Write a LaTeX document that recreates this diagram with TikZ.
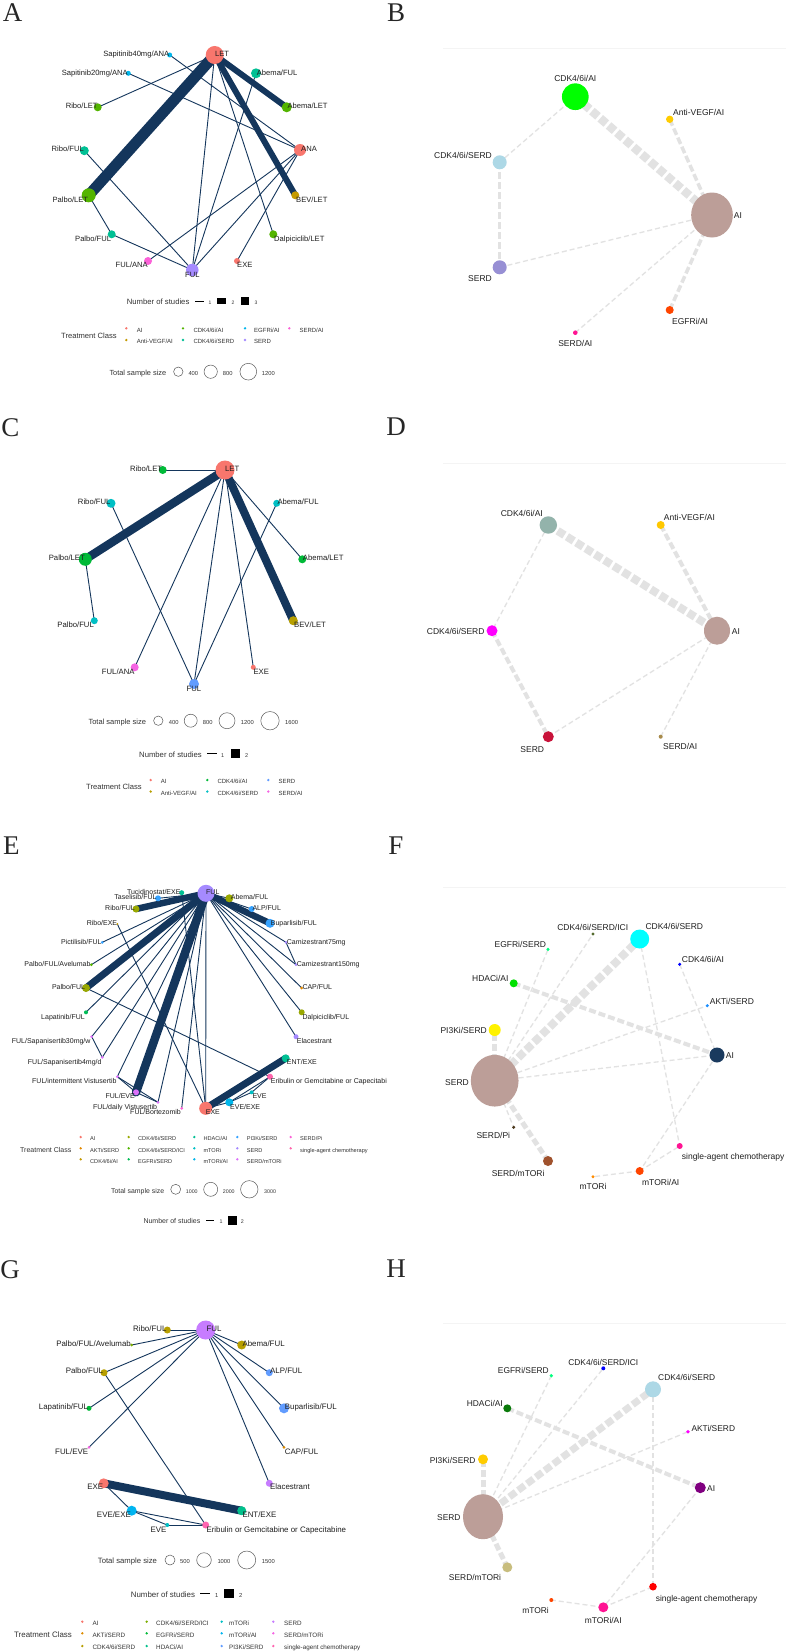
\documentclass[tikz,border=0pt]{standalone}
\usepackage{fontspec}
\setmainfont{Liberation Sans}
\newfontfamily\panelfont{Liberation Serif}
\usetikzlibrary{shapes.geometric,backgrounds}
\definecolor{navy}{HTML}{14365C}
\definecolor{egray}{HTML}{E2E2E2}
\definecolor{faint}{HTML}{F4F4F4}
% panel A palette
\definecolor{aAI}{HTML}{F8766D}\definecolor{aVEGF}{HTML}{C49A00}\definecolor{aCDKAI}{HTML}{53B400}
\definecolor{aCDKSERD}{HTML}{00C094}\definecolor{aEGFR}{HTML}{00B6EB}\definecolor{aSERD}{HTML}{A58AFF}\definecolor{aSERDAI}{HTML}{FB61D7}
% panel C palette
\definecolor{cAI}{HTML}{F8766D}\definecolor{cVEGF}{HTML}{B79F00}\definecolor{cCDKAI}{HTML}{00BA38}
\definecolor{cCDKSERD}{HTML}{00BFC4}\definecolor{cSERD}{HTML}{619CFF}\definecolor{cSERDAI}{HTML}{F564E3}
% panel E palette
\definecolor{eAI}{HTML}{F8766D}\definecolor{eAKT}{HTML}{E38900}\definecolor{eCDKAI}{HTML}{C49A00}
\definecolor{eCDKSERD}{HTML}{99A800}\definecolor{eICI}{HTML}{53B400}\definecolor{eEGFR}{HTML}{00BC56}
\definecolor{eHDAC}{HTML}{00C094}\definecolor{emTOR}{HTML}{00BFC4}\definecolor{emTORAI}{HTML}{00B6EB}
\definecolor{ePI3K}{HTML}{35A2FF}\definecolor{eSERD}{HTML}{A58AFF}\definecolor{eSERDmTOR}{HTML}{DC71FA}
\definecolor{eSERDPi}{HTML}{FB61D7}\definecolor{eChemo}{HTML}{FF65AC}
% panel G palette
\definecolor{gAI}{HTML}{F8766D}\definecolor{gAKT}{HTML}{DE8C00}\definecolor{gCDKSERD}{HTML}{B79F00}
\definecolor{gICI}{HTML}{7CAE00}\definecolor{gEGFR}{HTML}{00BA38}\definecolor{gHDAC}{HTML}{00C08B}
\definecolor{gmTOR}{HTML}{00BFC4}\definecolor{gmTORAI}{HTML}{00B4F0}\definecolor{gPI3K}{HTML}{619CFF}
\definecolor{gSERD}{HTML}{C77CFF}\definecolor{gSERDmTOR}{HTML}{F564E3}\definecolor{gChemo}{HTML}{FF64B0}
% right panels
\definecolor{rosy}{HTML}{BC9E98}
\definecolor{hFFCC00}{HTML}{FFCC00}\definecolor{hADD8E6}{HTML}{ADD8E6}\definecolor{h978FD4}{HTML}{978FD4}
\definecolor{hFF4500}{HTML}{FF4500}\definecolor{hFF1493}{HTML}{FF1493}\definecolor{h93B3AB}{HTML}{93B3AB}
\definecolor{hFFC800}{HTML}{FFC800}\definecolor{hFF00FF}{HTML}{FF00FF}\definecolor{hC8133A}{HTML}{C8133A}
\definecolor{hA88B4C}{HTML}{A88B4C}\definecolor{h556B2F}{HTML}{556B2F}\definecolor{h00FFFF}{HTML}{00FFFF}
\definecolor{h00FF7F}{HTML}{00FF7F}\definecolor{h0000FF}{HTML}{0000FF}\definecolor{h00E000}{HTML}{00E000}
\definecolor{h1E90FF}{HTML}{1E90FF}\definecolor{hFFF200}{HTML}{FFF200}\definecolor{h1A3A5E}{HTML}{1A3A5E}
\definecolor{h4E3B1F}{HTML}{4E3B1F}\definecolor{hA0522D}{HTML}{A0522D}\definecolor{hFF8C00}{HTML}{FF8C00}
\definecolor{h0A7A0A}{HTML}{0A7A0A}\definecolor{h800080}{HTML}{800080}\definecolor{hC8BD7E}{HTML}{C8BD7E}
\definecolor{hFF0000}{HTML}{FF0000}\definecolor{h00FF00}{HTML}{00FF00}
\newcommand{\mydot}[4]{\node[dot,fill=#4,minimum size=#3] (#1) at (#2) {};}
\newcommand{\mylab}[4]{\node[lab,anchor=#2] (#1) at (#3) {#4};}
\newcommand{\myedge}[3]{\draw[#1] (#2.center) -- (#3.center);}
\begin{document}
\begin{tikzpicture}[x=1pt,y=-1pt,
  dot/.style={circle,inner sep=0pt,draw=none},
  lab/.style={inner sep=0pt,text height=1.4ex,text depth=0pt,text=black!88},
  leg/.style={inner sep=0pt,text height=1.4ex,text depth=0pt,text=black!80},
  letter/.style={inner sep=0pt,text=black!85,font=\panelfont\fontsize{27}{27}\selectfont},
  nv/.style={draw=navy,line width=0.9pt,line cap=round},
  gd/.style={draw=egray,line width=1.3pt,dash pattern=on 5pt off 3pt},
  gm/.style={draw=egray,line width=3.5pt,dash pattern=on 7pt off 3pt},
  gk/.style={draw=egray,line width=8.5pt,dash pattern=on 8pt off 3pt},
  sz/.style={circle,draw=black!65,line width=0.5pt,inner sep=0pt},
  ld/.style={circle,inner sep=0pt,minimum size=2.6},
]
\useasboundingbox (0,0) rectangle (786,1651);
\begin{pgfonlayer}{background}
\fill[white] (0,0) rectangle (786,1651);
\draw[faint,line width=0.7pt] (443,48) -- (786,48);
\draw[faint,line width=0.7pt] (443,463) -- (786,463);
\draw[faint,line width=0.7pt] (443,887.3) -- (786,887.3);
\draw[faint,line width=0.7pt] (443,1323.3) -- (786,1323.3);
\end{pgfonlayer}

%%%%%%%%%%%%%%%% PANEL A
\begin{scope}[lab/.append style={font=\fontsize{7.6}{9}\selectfont}]
\node[letter] (pA) at (12.5,12.5) {A};
\mydot{A1}{214.7,55}{18}{aAI}
\mydot{A2}{169.7,55}{5}{aEGFR}
\mydot{A3}{128.3,73.3}{5}{aEGFR}
\mydot{A4}{256,73.3}{10}{aCDKSERD}
\mydot{A5}{97.7,107.3}{8}{aCDKAI}
\mydot{A6}{286.7,107.3}{10}{aCDKAI}
\mydot{A7}{84.3,150.7}{9}{aCDKSERD}
\mydot{A8}{300,150}{12}{aAI}
\mydot{A9}{88.7,195.3}{14}{aCDKAI}
\mydot{A10}{295.3,195.3}{8}{aVEGF}
\mydot{A11}{111.7,234.3}{8}{aCDKSERD}
\mydot{A12}{273.3,234.3}{8}{aCDKAI}
\mydot{A13}{148,261}{8}{aSERDAI}
\mydot{A14}{237,261}{6}{aAI}
\mydot{A15}{192.3,270}{12.5}{aSERD}
\mylab{A1l}{west}{215,52.7}{LET}
\mylab{A2l}{east}{169.5,52.7}{Sapitinib40mg/ANA}
\mylab{A3l}{east}{128,71.7}{Sapitinib20mg/ANA}
\mylab{A4l}{west}{256.7,71.7}{Abema/FUL}
\mylab{A5l}{east}{97.7,105}{Ribo/LET}
\mylab{A6l}{west}{287.3,105}{Abema/LET}
\mylab{A7l}{east}{84,148}{Ribo/FUL}
\mylab{A8l}{west}{301,148}{ANA}
\mylab{A9l}{east}{88.3,198.7}{Palbo/LET}
\mylab{A10l}{west}{296,198.7}{BEV/LET}
\mylab{A11l}{east}{111.3,237.7}{Palbo/FUL}
\mylab{A12l}{west}{274,237.7}{Dalpiciclib/LET}
\mylab{A13l}{east}{148,264.3}{FUL/ANA}
\mylab{A14l}{west}{237,264.3}{EXE}
\mylab{A15l}{center}{192.3,274}{FUL}
\begin{pgfonlayer}{background}
\myedge{nv,line width=11pt}{A1}{A9}
\myedge{nv,line width=6pt}{A1}{A6}
\myedge{nv,line width=6pt}{A1}{A10}
\myedge{nv}{A1}{A5}
\myedge{nv}{A1}{A12}
\myedge{nv}{A1}{A15}
\myedge{nv}{A2}{A8}
\myedge{nv}{A3}{A8}
\myedge{nv}{A15}{A7}
\myedge{nv}{A15}{A11}
\myedge{nv}{A15}{A4}
\myedge{nv}{A15}{A8}
\myedge{nv}{A9}{A11}
\myedge{nv}{A13}{A8}
\myedge{nv}{A14}{A8}
\end{pgfonlayer}
% legend
\node[leg,anchor=west,font=\fontsize{7.7}{9}\selectfont] (Ans) at (126.7,301) {Number of studies};
\draw[line width=0.9pt] (195,301) -- (204,301);
\node[leg,font=\fontsize{5}{6}\selectfont] (An1) at (210,301) {1};
\fill (217,298.4) rectangle (226.3,303.6);
\node[leg,font=\fontsize{5}{6}\selectfont] (An2) at (233,301) {2};
\fill (240.7,296.7) rectangle (249.3,305.3);
\node[leg,font=\fontsize{5}{6}\selectfont] (An3) at (256,301) {3};
\node[leg,anchor=west,font=\fontsize{7.6}{9}\selectfont] (Atc) at (61,334.3) {Treatment Class};
\begin{scope}[leg/.append style={font=\fontsize{6}{7}\selectfont}]
\node[ld,fill=aAI] (Ad1) at (126.3,328.3) {}; \node[leg,anchor=west] (At1) at (136.7,328.3) {AI};
\node[ld,fill=aCDKAI] (Ad2) at (183,328.3) {}; \node[leg,anchor=west] (At2) at (193.3,328.3) {CDK4/6i/AI};
\node[ld,fill=aEGFR] (Ad3) at (245,328.3) {}; \node[leg,anchor=west] (At3) at (254,328.3) {EGFRi/AI};
\node[ld,fill=aSERDAI] (Ad4) at (289.3,328.3) {}; \node[leg,anchor=west] (At4) at (299.3,328.3) {SERD/AI};
\node[ld,fill=aVEGF] (Ad5) at (126.3,340) {}; \node[leg,anchor=west] (At5) at (136.7,340) {Anti-VEGF/AI};
\node[ld,fill=aCDKSERD] (Ad6) at (183,340) {}; \node[leg,anchor=west] (At6) at (193.3,340) {CDK4/6i/SERD};
\node[ld,fill=aSERD] (Ad7) at (245,340) {}; \node[leg,anchor=west] (At7) at (254,340) {SERD};
\end{scope}
\node[leg,anchor=west,font=\fontsize{7.4}{9}\selectfont] (Ats) at (109.3,371.7) {Total sample size};
\node[sz,minimum size=9.4] (As1) at (178.3,371.7) {};
\node[leg,anchor=west,font=\fontsize{5.8}{7}\selectfont] (As1l) at (188.3,371.7) {400};
\node[sz,minimum size=13.3] (As2) at (210.7,371.7) {};
\node[leg,anchor=west,font=\fontsize{5.8}{7}\selectfont] (As2l) at (222.7,371.7) {800};
\node[sz,minimum size=16.7] (As3) at (248.3,371.7) {};
\node[leg,anchor=west,font=\fontsize{5.8}{7}\selectfont] (As3l) at (261.7,371.7) {1200};
\end{scope}

%%%%%%%%%%%%%%%% PANEL B
\begin{scope}[lab/.append style={font=\fontsize{8.5}{10}\selectfont}]
\node[letter] (pB) at (396,13) {B};
\mydot{B1}{575.3,96.7}{26.7}{h00FF00}
\mydot{B2}{669.7,119.3}{7.4}{hFFCC00}
\mydot{B3}{499.7,162.3}{14}{hADD8E6}
\node[ellipse,inner sep=0pt,fill=rosy,minimum width=41.7,minimum height=45] (B4) at (712,215) {};
\mydot{B5}{499.7,267.3}{14}{h978FD4}
\mydot{B6}{669.7,310}{8}{hFF4500}
\mydot{B7}{575.3,332.7}{4.6}{hFF1493}
\mylab{B1l}{center}{575.3,77.7}{CDK4/6i/AI}
\mylab{B2l}{west}{673,112.3}{Anti-VEGF/AI}
\mylab{B3l}{east}{492,155}{CDK4/6i/SERD}
\mylab{B4l}{west}{733.7,215}{AI}
\mylab{B5l}{east}{492,277.7}{SERD}
\mylab{B6l}{west}{672,320.7}{EGFRi/AI}
\mylab{B7l}{center}{575.3,342.7}{SERD/AI}
\begin{pgfonlayer}{background}
\myedge{gk}{B1}{B4}
\myedge{gd}{B1}{B3}
\myedge{gm}{B3}{B5}
\myedge{gd}{B5}{B4}
\myedge{gm}{B2}{B4}
\myedge{gm}{B6}{B4}
\myedge{gd}{B7}{B4}
\end{pgfonlayer}
\end{scope}

%%%%%%%%%%%%%%%% PANEL C
\begin{scope}[lab/.append style={font=\fontsize{7.7}{9}\selectfont}]
\node[letter] (pC) at (10.5,428) {C};
\mydot{C1}{225,470}{19}{cAI}
\mydot{C2}{162.7,470}{8}{cCDKAI}
\mydot{C3}{111,503.3}{9}{cCDKSERD}
\mydot{C4}{276.7,503.3}{7}{cCDKSERD}
\mydot{C5}{85.3,559.3}{13}{cCDKAI}
\mydot{C6}{302.3,559.3}{8}{cCDKAI}
\mydot{C7}{94.3,620.7}{7}{cCDKSERD}
\mydot{C8}{293.3,620.7}{9}{cVEGF}
\mydot{C9}{134.7,667.3}{8}{cSERDAI}
\mydot{C10}{253.3,667.3}{5}{cAI}
\mydot{C11}{194,684}{10}{cSERD}
\mylab{C1l}{west}{225,467.7}{LET}
\mylab{C2l}{east}{162.3,467.7}{Ribo/LET}
\mylab{C3l}{east}{110.7,501}{Ribo/FUL}
\mylab{C4l}{west}{277.3,501}{Abema/FUL}
\mylab{C5l}{east}{85,556.7}{Palbo/LET}
\mylab{C6l}{west}{302.7,556.7}{Abema/LET}
\mylab{C7l}{east}{94,624}{Palbo/FUL}
\mylab{C8l}{west}{294,624}{BEV/LET}
\mylab{C9l}{east}{134.7,670.7}{FUL/ANA}
\mylab{C10l}{west}{253.3,670.7}{EXE}
\mylab{C11l}{center}{194,687.7}{FUL}
\begin{pgfonlayer}{background}
\myedge{nv}{C1}{C2}
\myedge{nv,line width=8.5pt}{C1}{C5}
\myedge{nv,line width=8pt}{C1}{C8}
\myedge{nv}{C1}{C6}
\myedge{nv}{C1}{C10}
\myedge{nv}{C1}{C9}
\myedge{nv}{C1}{C11}
\myedge{nv}{C5}{C7}
\myedge{nv}{C3}{C11}
\myedge{nv}{C4}{C11}
\end{pgfonlayer}
\node[leg,anchor=west,font=\fontsize{7.5}{9}\selectfont] (Cts) at (88.3,720.7) {Total sample size};
\node[sz,minimum size=9.4] (Cs1) at (158.3,720.7) {};
\node[leg,anchor=west,font=\fontsize{5.8}{7}\selectfont] (Cs1l) at (168.7,720.7) {400};
\node[sz,minimum size=13] (Cs2) at (190.7,720.7) {};
\node[leg,anchor=west,font=\fontsize{5.8}{7}\selectfont] (Cs2l) at (202.7,720.7) {800};
\node[sz,minimum size=16] (Cs3) at (227,720.7) {};
\node[leg,anchor=west,font=\fontsize{5.8}{7}\selectfont] (Cs3l) at (240.7,720.7) {1200};
\node[sz,minimum size=18.4] (Cs4) at (270,720.7) {};
\node[leg,anchor=west,font=\fontsize{5.8}{7}\selectfont] (Cs4l) at (285,720.7) {1600};
\node[leg,anchor=west,font=\fontsize{7.7}{9}\selectfont] (Cns) at (139,753.3) {Number of studies};
\draw[line width=0.9pt] (207.3,753.3) -- (216.7,753.3);
\node[leg,font=\fontsize{5.5}{6}\selectfont] (Cn1) at (222.7,753.3) {1};
\fill (230.7,748.7) rectangle (240,758);
\node[leg,font=\fontsize{5.5}{6}\selectfont] (Cn2) at (246.7,753.3) {2};
\node[leg,anchor=west,font=\fontsize{7.6}{9}\selectfont] (Ctc) at (86,786) {Treatment Class};
\begin{scope}[leg/.append style={font=\fontsize{6}{7}\selectfont}]
\node[ld,fill=cAI] (Cd1) at (150.7,780) {}; \node[leg,anchor=west] (Ct1) at (160.7,780) {AI};
\node[ld,fill=cCDKAI] (Cd2) at (207.3,780) {}; \node[leg,anchor=west] (Ct2) at (217.3,780) {CDK4/6i/AI};
\node[ld,fill=cSERD] (Cd3) at (268.3,780) {}; \node[leg,anchor=west] (Ct3) at (278.3,780) {SERD};
\node[ld,fill=cVEGF] (Cd4) at (150.7,791.5) {}; \node[leg,anchor=west] (Ct4) at (160.7,791.5) {Anti-VEGF/AI};
\node[ld,fill=cCDKSERD] (Cd5) at (207.3,791.5) {}; \node[leg,anchor=west] (Ct5) at (217.3,791.5) {CDK4/6i/SERD};
\node[ld,fill=cSERDAI] (Cd6) at (268.3,791.5) {}; \node[leg,anchor=west] (Ct6) at (278.3,791.5) {SERD/AI};
\end{scope}
\end{scope}

%%%%%%%%%%%%%%%% PANEL D
\begin{scope}[lab/.append style={font=\fontsize{8.5}{10}\selectfont}]
\node[letter] (pD) at (396,427) {D};
\mydot{D1}{548.3,525}{17.4}{h93B3AB}
\mydot{D2}{660.7,525}{8}{hFFC800}
\mydot{D3}{492,630.7}{11}{hFF00FF}
\node[ellipse,inner sep=0pt,fill=rosy,minimum width=26,minimum height=28] (D4) at (717,630.7) {};
\mydot{D5}{548.3,736.7}{11}{hC8133A}
\mydot{D6}{660.7,736.7}{4}{hA88B4C}
\mylab{D1l}{east}{543,512.7}{CDK4/6i/AI}
\mylab{D2l}{west}{663.7,516.7}{Anti-VEGF/AI}
\mylab{D3l}{east}{484.7,630.7}{CDK4/6i/SERD}
\mylab{D4l}{west}{731.7,630.7}{AI}
\mylab{D5l}{center}{532.3,749}{SERD}
\mylab{D6l}{west}{663,745.7}{SERD/AI}
\begin{pgfonlayer}{background}
\myedge{gk,line width=8pt}{D1}{D4}
\myedge{gm,line width=4pt}{D2}{D4}
\myedge{gd}{D1}{D3}
\myedge{gm,line width=4pt}{D3}{D5}
\myedge{gd}{D5}{D4}
\myedge{gd}{D6}{D4}
\end{pgfonlayer}
\end{scope}

%%%%%%%%%%%%%%%% PANEL E
\begin{scope}[lab/.append style={font=\fontsize{7}{8}\selectfont}]
\node[letter] (pE) at (11.3,846) {E};
\mydot{E1}{206,893.3}{17}{eSERD}
\mydot{E2}{181.7,892.7}{5}{eHDAC}
\mydot{E3}{158,898.3}{6}{ePI3K}
\mydot{E4}{229.3,898.3}{8}{eCDKSERD}
\mydot{E5}{136,909}{7}{eCDKSERD}
\mydot{E6}{251.7,909}{6}{ePI3K}
\mydot{E7}{117.3,924}{2}{eCDKAI}
\mydot{E8}{270,923.3}{9}{ePI3K}
\mydot{E9}{102.3,942.3}{3}{ePI3K}
\mydot{E10}{286,942.3}{3}{eSERD}
\mydot{E11}{91.3,964.7}{3}{eICI}
\mydot{E12}{296,964.7}{3}{eSERD}
\mydot{E13}{86,988}{8}{eCDKSERD}
\mydot{E14}{301.7,988}{3}{eAKT}
\mydot{E15}{86,1012.3}{4}{eEGFR}
\mydot{E16}{301.7,1012.3}{6}{eCDKSERD}
\mydot{E17}{91.7,1036.7}{3}{eSERDmTOR}
\mydot{E18}{296,1036.7}{5}{eSERD}
\mydot{E19}{102.3,1057.3}{3}{eSERDmTOR}
\mydot{E20}{285.7,1058.3}{8}{eHDAC}
\mydot{E21}{117.3,1076.7}{3}{eSERDmTOR}
\mydot{E22}{270,1076.7}{6}{eChemo}
\mydot{E23}{136,1092.3}{6}{eSERDmTOR}
\mydot{E24}{251.7,1092.3}{4}{emTOR}
\mydot{E25}{158,1102.3}{3}{eSERDmTOR}
\mydot{E26}{229.3,1102.3}{8}{emTORAI}
\mydot{E27}{181.7,1108.3}{3}{eSERDPi}
\mydot{E28}{205.7,1108.3}{13}{eAI}
\mylab{E1l}{west}{206,890.7}{FUL}
\mylab{E2l}{east}{180.7,890.7}{Tucidinostat/EXE}
\mylab{E3l}{east}{156.7,896}{Taselisib/FUL}
\mylab{E4l}{west}{230.7,896}{Abema/FUL}
\mylab{E5l}{east}{135,906.7}{Ribo/FUL}
\mylab{E6l}{west}{252.3,906.7}{ALP/FUL}
\mylab{E7l}{east}{117.3,921.3}{Ribo/EXE}
\mylab{E8l}{west}{270.7,921.3}{Buparlisib/FUL}
\mylab{E9l}{east}{101.7,940.7}{Pictilisib/FUL}
\mylab{E10l}{west}{286.7,940.7}{Camizestrant75mg}
\mylab{E11l}{east}{90.7,962.7}{Palbo/FUL/Avelumab}
\mylab{E12l}{west}{296.7,962.7}{Camizestrant150mg}
\mylab{E13l}{east}{85.3,985.7}{Palbo/FUL}
\mylab{E14l}{west}{302.3,985.7}{CAP/FUL}
\mylab{E15l}{east}{85,1015.7}{Lapatinib/FUL}
\mylab{E16l}{west}{302.3,1015.7}{Dalpiciclib/FUL}
\mylab{E17l}{east}{90.7,1039.3}{FUL/Sapanisertib30mg/w}
\mylab{E18l}{west}{296.7,1039.3}{Elacestrant}
\mylab{E19l}{east}{101.7,1060.7}{FUL/Sapanisertib4mg/d}
\mylab{E20l}{west}{286.7,1061}{ENT/EXE}
\mylab{E21l}{east}{116.7,1080}{FUL/intermittent Vistusertib}
\begin{scope}
\clip (200,1070) rectangle (386,1090);
\mylab{E22l}{west}{270.7,1080}{Eribulin or Gemcitabine or Capecitabine}
\end{scope}
\mylab{E23l}{east}{135,1094.3}{FUL/EVE}
\mylab{E24l}{west}{252.3,1095}{EVE}
\mylab{E25l}{east}{157.3,1105.7}{FUL/daily Vistusertib}
\mylab{E26l}{west}{230,1105.3}{EVE/EXE}
\mylab{E27l}{east}{181,1111}{FUL/Bortezomib}
\mylab{E28l}{west}{205.7,1111}{EXE}
\begin{pgfonlayer}{background}
\myedge{nv,line width=6.5pt}{E1}{E5}
\myedge{nv,line width=7pt}{E1}{E13}
\myedge{nv,line width=8.5pt}{E1}{E23}
\myedge{nv,line width=6.5pt}{E1}{E8}
\myedge{nv,line width=7pt}{E28}{E20}
\myedge{nv}{E2}{E28}
\myedge{nv}{E1}{E3}
\myedge{nv}{E1}{E4}
\myedge{nv}{E1}{E6}
\myedge{nv}{E1}{E9}
\myedge{nv}{E1}{E10}
\myedge{nv}{E1}{E12}
\myedge{nv}{E10}{E12}
\myedge{nv}{E1}{E11}
\myedge{nv}{E1}{E14}
\myedge{nv}{E1}{E15}
\myedge{nv}{E1}{E16}
\myedge{nv}{E1}{E17}
\myedge{nv}{E1}{E18}
\myedge{nv}{E1}{E19}
\myedge{nv}{E17}{E19}
\myedge{nv}{E1}{E21}
\myedge{nv}{E1}{E25}
\myedge{nv}{E1}{E27}
\myedge{nv}{E1}{E28}
\myedge{nv}{E21}{E23}
\myedge{nv}{E21}{E25}
\myedge{nv}{E23}{E25}
\myedge{nv}{E7}{E28}
\myedge{nv}{E13}{E22}
\myedge{nv}{E28}{E26}
\myedge{nv}{E26}{E24}
\myedge{nv}{E26}{E22}
\myedge{nv}{E24}{E22}
\end{pgfonlayer}
\node[leg,anchor=west,font=\fontsize{7}{8}\selectfont] (Etc) at (20,1148.3) {Treatment Class};
\begin{scope}[leg/.append style={font=\fontsize{5.6}{7}\selectfont}]
\node[ld,fill=eAI] (Ed1) at (80.7,1137) {}; \node[leg,anchor=west] (Et1) at (90,1137) {AI};
\node[ld,fill=eAKT] (Ed2) at (80.7,1148.3) {}; \node[leg,anchor=west] (Et2) at (90,1148.3) {AKTi/SERD};
\node[ld,fill=eCDKAI] (Ed3) at (80.7,1159.3) {}; \node[leg,anchor=west] (Et3) at (90,1159.3) {CDK4/6i/AI};
\node[ld,fill=eCDKSERD] (Ed4) at (128.7,1137) {}; \node[leg,anchor=west] (Et4) at (138,1137) {CDK4/6i/SERD};
\node[ld,fill=eICI] (Ed5) at (128.7,1148.3) {}; \node[leg,anchor=west] (Et5) at (138,1148.3) {CDK4/6i/SERD/ICI};
\node[ld,fill=eEGFR] (Ed6) at (128.7,1159.3) {}; \node[leg,anchor=west] (Et6) at (138,1159.3) {EGFRi/SERD};
\node[ld,fill=eHDAC] (Ed7) at (194.3,1137) {}; \node[leg,anchor=west] (Et7) at (203.3,1137) {HDACi/AI};
\node[ld,fill=emTOR] (Ed8) at (194.3,1148.3) {}; \node[leg,anchor=west] (Et8) at (203.3,1148.3) {mTORi};
\node[ld,fill=emTORAI] (Ed9) at (194.3,1159.3) {}; \node[leg,anchor=west] (Et9) at (203.3,1159.3) {mTORi/AI};
\node[ld,fill=ePI3K] (Ed10) at (237.3,1137) {}; \node[leg,anchor=west] (Et10) at (246.7,1137) {PI3Ki/SERD};
\node[ld,fill=eSERD] (Ed11) at (237.3,1148.3) {}; \node[leg,anchor=west] (Et11) at (246.7,1148.3) {SERD};
\node[ld,fill=eSERDmTOR] (Ed12) at (237.3,1159.3) {}; \node[leg,anchor=west] (Et12) at (246.7,1159.3) {SERD/mTORi};
\node[ld,fill=eSERDPi] (Ed13) at (290.7,1137) {}; \node[leg,anchor=west] (Et13) at (300,1137) {SERD/Pi};
\node[ld,fill=eChemo] (Ed14) at (290.7,1148.3) {}; \node[leg,anchor=west] (Et14) at (300,1148.3) {single-agent chemotherapy};
\end{scope}
\node[leg,anchor=west,font=\fontsize{6.9}{8}\selectfont] (Ets) at (111,1189.3) {Total sample size};
\node[sz,minimum size=10] (Es1) at (175.7,1189.3) {};
\node[leg,anchor=west,font=\fontsize{5.3}{6}\selectfont] (Es1l) at (185.7,1189.3) {1000};
\node[sz,minimum size=14] (Es2) at (210.7,1189.3) {};
\node[leg,anchor=west,font=\fontsize{5.3}{6}\selectfont] (Es2l) at (222.7,1189.3) {2000};
\node[sz,minimum size=17.4] (Es3) at (249.3,1189.3) {};
\node[leg,anchor=west,font=\fontsize{5.3}{6}\selectfont] (Es3l) at (264,1189.3) {3000};
\node[leg,anchor=west,font=\fontsize{7}{8}\selectfont] (Ens) at (143.3,1220) {Number of studies};
\draw[line width=0.9pt] (206,1220) -- (214,1220);
\node[leg,font=\fontsize{5.3}{6}\selectfont] (En1) at (221,1220) {1};
\fill (227.7,1215.5) rectangle (236.7,1224.5);
\node[leg,font=\fontsize{5.3}{6}\selectfont] (En2) at (242.3,1220) {2};
\end{scope}

%%%%%%%%%%%%%%%% PANEL F
\begin{scope}[lab/.append style={font=\fontsize{8.5}{10}\selectfont}]
\node[letter] (pF) at (396,846) {F};
\mydot{F1}{593,934}{3.4}{h556B2F}
\mydot{F2}{639.7,939}{19}{h00FFFF}
\mydot{F3}{548,949.3}{3.4}{h00FF7F}
\mydot{F4}{679.7,964.3}{3.4}{h0000FF}
\mydot{F5}{513.7,983.3}{8}{h00E000}
\mydot{F6}{707.3,1005.7}{3.4}{h1E90FF}
\mydot{F7}{494.7,1030}{12}{hFFF200}
\mydot{F8}{717,1055}{15}{h1A3A5E}
\node[ellipse,inner sep=0pt,fill=rosy,minimum width=47.7,minimum height=51.7] (F9) at (494.7,1080.7) {};
\mydot{F10}{513.7,1127.3}{3.4}{h4E3B1F}
\mydot{F11}{679.7,1146}{6}{hFF1493}
\mydot{F12}{548,1161}{10}{hA0522D}
\mydot{F13}{639.7,1171}{8}{hFF4500}
\mydot{F14}{593,1176.7}{3.4}{hFF8C00}
\mylab{F1l}{center}{592.7,926.7}{CDK4/6i/SERD/ICI}
\mylab{F2l}{west}{645.3,926}{CDK4/6i/SERD}
\mylab{F3l}{east}{546.3,943.3}{EGFRi/SERD}
\mylab{F4l}{west}{681.7,958.3}{CDK4/6i/AI}
\mylab{F5l}{east}{508.7,977.3}{HDACi/AI}
\mylab{F6l}{west}{709.7,1001}{AKTi/SERD}
\mylab{F7l}{east}{487,1030}{PI3Ki/SERD}
\mylab{F8l}{west}{725.7,1055}{AI}
\mylab{F9l}{east}{469,1081.7}{SERD}
\mylab{F10l}{east}{510.3,1134.3}{SERD/Pi}
\mylab{F11l}{west}{681.7,1156}{single-agent chemotherapy}
\mylab{F12l}{east}{544.7,1172.7}{SERD/mTORi}
\mylab{F13l}{center}{660.7,1181.7}{mTORi/AI}
\mylab{F14l}{center}{593,1186}{mTORi}
\begin{pgfonlayer}{background}
\myedge{gk,line width=8pt}{F9}{F2}
\myedge{gm,line width=4pt}{F5}{F8}
\myedge{gm,line width=5pt}{F9}{F7}
\myedge{gm,line width=5pt}{F9}{F12}
\myedge{gd}{F9}{F3}
\myedge{gd}{F9}{F1}
\myedge{gd}{F9}{F6}
\myedge{gd}{F9}{F8}
\myedge{gd}{F9}{F10}
\myedge{gd}{F4}{F8}
\myedge{gd}{F2}{F11}
\myedge{gd}{F8}{F13}
\myedge{gd}{F13}{F11}
\myedge{gd}{F13}{F14}
\end{pgfonlayer}
\end{scope}

%%%%%%%%%%%%%%%% PANEL G
\begin{scope}[lab/.append style={font=\fontsize{7.9}{9}\selectfont}]
\node[letter] (pG) at (10,1270) {G};
\mydot{G1}{205.7,1330}{19}{gSERD}
\mydot{G2}{167.3,1330}{7}{gCDKSERD}
\mydot{G3}{131.7,1345}{3}{gICI}
\mydot{G4}{241.7,1345}{9}{gCDKSERD}
\mydot{G5}{104,1372.7}{7}{gCDKSERD}
\mydot{G6}{269.3,1372.7}{7}{gPI3K}
\mydot{G7}{89,1408.3}{5}{gEGFR}
\mydot{G8}{284,1408.3}{10}{gPI3K}
\mydot{G9}{89,1447.3}{3}{gSERDmTOR}
\mydot{G10}{284,1447.3}{3}{gAKT}
\mydot{G11}{103.7,1483.3}{10}{gAI}
\mydot{G12}{269.3,1483.3}{7}{gSERD}
\mydot{G13}{131.7,1510.7}{10}{gmTORAI}
\mydot{G14}{241.7,1510.7}{9}{gHDAC}
\mydot{G15}{167.3,1525}{4}{gmTOR}
\mydot{G16}{205.7,1525}{7}{gChemo}
\mylab{G1l}{west}{206.3,1327.7}{FUL}
\mylab{G2l}{east}{166.7,1327.7}{Ribo/FUL}
\mylab{G3l}{east}{131,1342.7}{Palbo/FUL/Avelumab}
\mylab{G4l}{west}{242.3,1342.7}{Abema/FUL}
\mylab{G5l}{east}{103.3,1370}{Palbo/FUL}
\mylab{G6l}{west}{270,1370}{ALP/FUL}
\mylab{G7l}{east}{88.3,1405.7}{Lapatinib/FUL}
\mylab{G8l}{west}{284.7,1405.7}{Buparlisib/FUL}
\mylab{G9l}{east}{88.3,1450.7}{FUL/EVE}
\mylab{G10l}{west}{284.7,1450.7}{CAP/FUL}
\mylab{G11l}{east}{103.3,1486}{EXE}
\mylab{G12l}{west}{270,1486}{Elacestrant}
\mylab{G13l}{east}{131,1513.3}{EVE/EXE}
\mylab{G14l}{west}{242.3,1513.3}{ENT/EXE}
\mylab{G15l}{east}{166.7,1528.3}{EVE}
\mylab{G16l}{west}{206.3,1528.3}{Eribulin or Gemcitabine or Capecitabine}
\begin{pgfonlayer}{background}
\myedge{nv}{G1}{G2}
\myedge{nv}{G1}{G3}
\myedge{nv}{G1}{G5}
\myedge{nv}{G1}{G7}
\myedge{nv}{G1}{G9}
\myedge{nv}{G1}{G4}
\myedge{nv}{G1}{G6}
\myedge{nv}{G1}{G8}
\myedge{nv}{G1}{G10}
\myedge{nv}{G1}{G12}
\myedge{nv}{G5}{G16}
\myedge{nv,line width=8pt}{G11}{G14}
\myedge{nv}{G11}{G13}
\myedge{nv}{G13}{G15}
\myedge{nv}{G13}{G16}
\myedge{nv}{G15}{G16}
\end{pgfonlayer}
\node[leg,anchor=west,font=\fontsize{7.7}{9}\selectfont] (Gts) at (97.7,1560) {Total sample size};
\node[sz,minimum size=10] (Gs1) at (170,1560) {};
\node[leg,anchor=west,font=\fontsize{5.8}{7}\selectfont] (Gs1l) at (180,1560) {500};
\node[sz,minimum size=14.6] (Gs2) at (204,1560) {};
\node[leg,anchor=west,font=\fontsize{5.8}{7}\selectfont] (Gs2l) at (217.3,1560) {1000};
\node[sz,minimum size=18] (Gs3) at (246.7,1560) {};
\node[leg,anchor=west,font=\fontsize{5.8}{7}\selectfont] (Gs3l) at (261.7,1560) {1500};
\node[leg,anchor=west,font=\fontsize{7.9}{9}\selectfont] (Gns) at (130.7,1593.3) {Number of studies};
\draw[line width=0.9pt] (200,1593.3) -- (210,1593.3);
\node[leg,font=\fontsize{5.8}{7}\selectfont] (Gn1) at (216.7,1593.3) {1};
\fill (224.3,1588.5) rectangle (234,1598.2);
\node[leg,font=\fontsize{5.8}{7}\selectfont] (Gn2) at (240.7,1593.3) {2};
\node[leg,anchor=west,font=\fontsize{7.9}{9}\selectfont] (Gtc) at (14,1633.3) {Treatment Class};
\begin{scope}[leg/.append style={font=\fontsize{6.3}{7}\selectfont}]
\node[ld,fill=gAI] (Gd1) at (82.3,1621.7) {}; \node[leg,anchor=west] (Gt1) at (92.3,1621.7) {AI};
\node[ld,fill=gAKT] (Gd2) at (82.3,1633.3) {}; \node[leg,anchor=west] (Gt2) at (92.3,1633.3) {AKTi/SERD};
\node[ld,fill=gCDKSERD] (Gd3) at (82.3,1646) {}; \node[leg,anchor=west] (Gt3) at (92.3,1646) {CDK4/6i/SERD};
\node[ld,fill=gICI] (Gd4) at (146.7,1621.7) {}; \node[leg,anchor=west] (Gt4) at (156,1621.7) {CDK4/6i/SERD/ICI};
\node[ld,fill=gEGFR] (Gd5) at (146.7,1633.3) {}; \node[leg,anchor=west] (Gt5) at (156,1633.3) {EGFRi/SERD};
\node[ld,fill=gHDAC] (Gd6) at (146.7,1646) {}; \node[leg,anchor=west] (Gt6) at (156,1646) {HDACi/AI};
\node[ld,fill=gmTOR] (Gd7) at (221.7,1621.7) {}; \node[leg,anchor=west] (Gt7) at (229,1621.7) {mTORi};
\node[ld,fill=gmTORAI] (Gd8) at (221.7,1633.3) {}; \node[leg,anchor=west] (Gt8) at (229,1633.3) {mTORi/AI};
\node[ld,fill=gPI3K] (Gd9) at (221.7,1646) {}; \node[leg,anchor=west] (Gt9) at (229,1646) {PI3Ki/SERD};
\node[ld,fill=gSERD] (Gd10) at (273.3,1621.7) {}; \node[leg,anchor=west] (Gt10) at (284,1621.7) {SERD};
\node[ld,fill=gSERDmTOR] (Gd11) at (273.3,1633.3) {}; \node[leg,anchor=west] (Gt11) at (284,1633.3) {SERD/mTORi};
\node[ld,fill=gChemo] (Gd12) at (273.3,1646) {}; \node[leg,anchor=west] (Gt12) at (284,1646) {single-agent chemotherapy};
\end{scope}
\end{scope}

%%%%%%%%%%%%%%%% PANEL H
\begin{scope}[lab/.append style={font=\fontsize{8.4}{10}\selectfont}]
\node[letter] (pH) at (396,1269) {H};
\mydot{H1}{551.3,1375.7}{3.6}{h00FF7F}
\mydot{H2}{603.3,1368.3}{4}{h0000FF}
\mydot{H3}{653,1389.3}{16}{hADD8E6}
\mydot{H4}{507.3,1408.3}{8}{h0A7A0A}
\mydot{H5}{688,1431.7}{3.6}{hFF00FF}
\mydot{H6}{483,1459.3}{10}{hFFCC00}
\mydot{H7}{700.3,1487.7}{11}{h800080}
\node[ellipse,inner sep=0pt,fill=rosy,minimum width=40,minimum height=45] (H8) at (483,1516.7) {};
\mydot{H9}{507.3,1567.3}{10}{hC8BD7E}
\mydot{H10}{653,1586.7}{7.6}{hFF0000}
\mydot{H11}{551.3,1600}{4}{hFF4500}
\mydot{H12}{603.3,1607.3}{10}{hFF1493}
\mylab{H1l}{east}{549,1369.3}{EGFRi/SERD}
\mylab{H2l}{center}{603.3,1362}{CDK4/6i/SERD/ICI}
\mylab{H3l}{west}{658,1376.7}{CDK4/6i/SERD}
\mylab{H4l}{east}{503,1402.7}{HDACi/AI}
\mylab{H5l}{west}{691.3,1427.3}{AKTi/SERD}
\mylab{H6l}{east}{475.7,1459.3}{PI3Ki/SERD}
\mylab{H7l}{west}{707,1487.7}{AI}
\mylab{H8l}{east}{460.7,1516.7}{SERD}
\mylab{H9l}{east}{501.3,1576.7}{SERD/mTORi}
\mylab{H10l}{west}{655.7,1597.3}{single-agent chemotherapy}
\mylab{H11l}{east}{549,1609.3}{mTORi}
\mylab{H12l}{center}{603.3,1619.3}{mTORi/AI}
\begin{pgfonlayer}{background}
\myedge{gk,line width=7pt}{H8}{H3}
\myedge{gm,line width=4pt}{H4}{H7}
\myedge{gm,line width=5pt}{H8}{H6}
\myedge{gm,line width=5pt}{H8}{H9}
\myedge{gd}{H8}{H1}
\myedge{gd}{H8}{H2}
\myedge{gd}{H8}{H5}
\myedge{gd}{H3}{H10}
\myedge{gd}{H7}{H12}
\myedge{gd}{H12}{H10}
\myedge{gd}{H12}{H11}
\end{pgfonlayer}
\end{scope}
\end{tikzpicture}
\end{document}
